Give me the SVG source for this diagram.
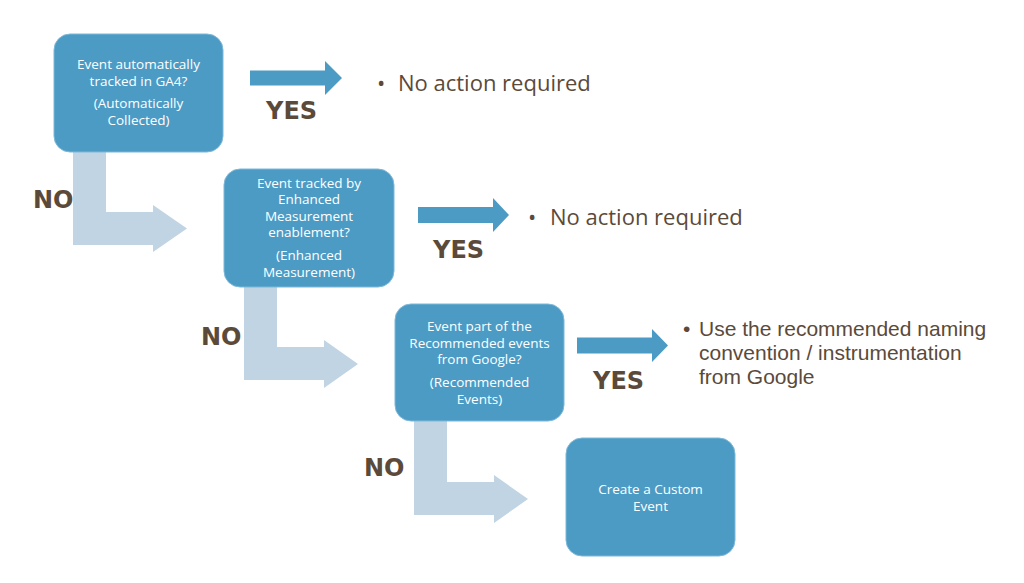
<svg xmlns="http://www.w3.org/2000/svg" width="1024" height="583" viewBox="0 0 1024 583">
<style>
.box{fill:#4b9bc5;stroke:#7fb8d8;stroke-width:1}
.bt{font-family:"Open Sans","Liberation Sans",sans-serif;font-size:13.5px;fill:#ffffff;text-anchor:middle}
.yes{fill:#4b9bc5}
.no{fill:#c0d4e4}
.lbl{font-family:"DejaVu Sans","Liberation Sans",sans-serif;font-weight:bold;font-size:24px;fill:#5b4a3a}
.out{font-family:"Open Sans","Liberation Sans",sans-serif;fill:#5b4a3a}
.out3{font-family:"Liberation Sans","Open Sans",sans-serif;font-size:21px;fill:#5b4a3a}
</style>
<rect width="1024" height="583" fill="#ffffff"/>
<g id="connectors">
<polygon class="yes" points="250,70.5 325,70.5 325,61 342,78 325,95 325,85.5 250,85.5"/>
<polygon class="yes" points="418,207 493,207 493,198 509,215 493,232 493,223 418,223"/>
<polygon class="yes" points="577,337.5 652,337.5 652,329 668,345.5 652,362 652,353.5 577,353.5"/>
<polygon class="no" points="73,152 106,152 106,212 153,212 153,205 187,228.5 153,252 153,245 73,245"/>
<polygon class="no" points="244,287 277,287 277,347 324,347 324,340 358,364 324,388 324,380 244,380"/>
<polygon class="no" points="414,421 447,421 447,482 494,482 494,475 528,499 494,523 494,515 414,515"/>
<text class="lbl" x="266" y="119">YES</text>
<text class="lbl" x="433" y="258">YES</text>
<text class="lbl" x="593" y="389">YES</text>
<text class="lbl" x="33" y="208">NO</text>
<text class="lbl" x="201" y="345">NO</text>
<text class="lbl" x="364" y="476">NO</text>
</g>
<g id="node-auto">
<rect class="box" x="54" y="34" width="169" height="118" rx="16"/>
<text class="bt" x="138.5" y="68.5">Event automatically</text>
<text class="bt" x="138.5" y="86">tracked in GA4?</text>
<text class="bt" x="138.5" y="107.5">(Automatically</text>
<text class="bt" x="138.5" y="124.5">Collected)</text>
</g>
<g id="node-enhanced">
<rect class="box" x="224" y="169" width="170" height="118" rx="16"/>
<text class="bt" x="309" y="187.5">Event tracked by</text>
<text class="bt" x="309" y="204">Enhanced</text>
<text class="bt" x="309" y="220.5">Measurement</text>
<text class="bt" x="309" y="237">enablement?</text>
<text class="bt" x="309" y="259.5">(Enhanced</text>
<text class="bt" x="309" y="276.5">Measurement)</text>
</g>
<g id="node-recommended">
<rect class="box" x="395" y="304" width="169" height="117" rx="16"/>
<text class="bt" x="479.5" y="330.5">Event part of the</text>
<text class="bt" x="479.5" y="347.5">Recommended events</text>
<text class="bt" x="479.5" y="364">from Google?</text>
<text class="bt" x="479.5" y="386.5">(Recommended</text>
<text class="bt" x="479.5" y="403.5">Events)</text>
</g>
<g id="node-custom">
<rect class="box" x="566" y="438" width="169" height="118" rx="16"/>
<text class="bt" x="650.5" y="493.5">Create a Custom</text>
<text class="bt" x="650.5" y="510.5">Event</text>
</g>
<g id="outcome-1">
<text class="out" font-size="22" x="377" y="91">•</text>
<text class="out" font-size="22" x="398" y="91">No action required</text>
</g>
<g id="outcome-2">
<text class="out" font-size="22" x="528" y="225">•</text>
<text class="out" font-size="22" x="550" y="225">No action required</text>
</g>
<g id="outcome-3">
<text class="out3" x="683" y="336">•</text>
<text class="out3" x="699" y="336">Use the recommended naming</text>
<text class="out3" x="699" y="360">convention / instrumentation</text>
<text class="out3" x="699" y="384">from Google</text>
</g>
</svg>
